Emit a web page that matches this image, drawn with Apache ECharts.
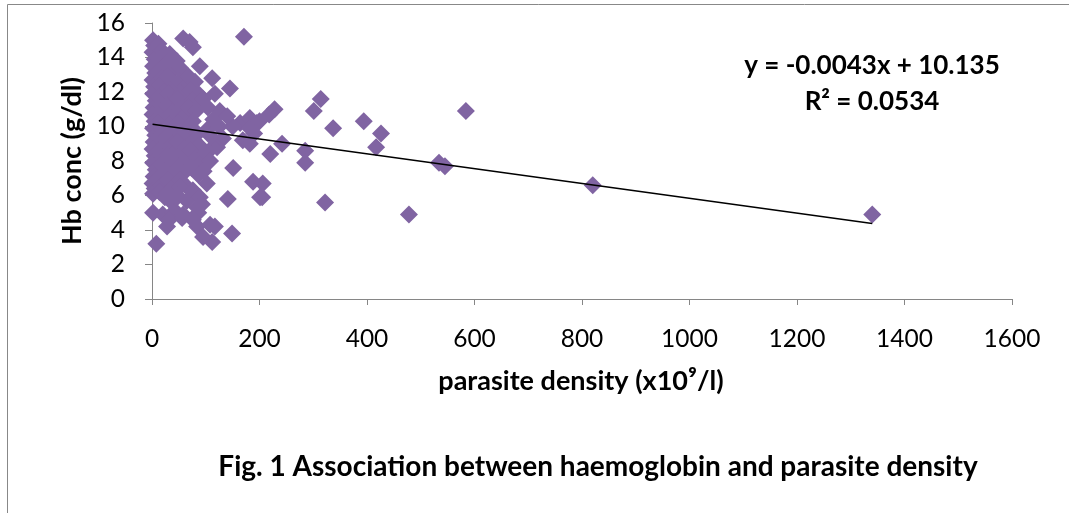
<!DOCTYPE html>
<html>
<head>
<meta charset="utf-8">
<script src="https://cdn.jsdelivr.net/npm/echarts@6/dist/echarts.min.js"></script>
<style>
html,body{margin:0;padding:0;background:#fff;}
#chart{width:1069px;height:513px;}
</style>
</head>
<body>
<div id="chart"></div>
<script>
// Data: parasite density (x10^9/l) and Hb conc (g/dl)
const parasiteDensity = [
  2,4,1,5,2,6,1,4,2,7,3,1,5,2,6,3,1,5,2,7,3,1,5,2,2,8,
  12,18,14,22,11,19,15,24,12,20,16,23,11,19,14,24,12,20,16,23,11,18,14,24,20,
  33,30,40,28,37,44,31,40,29,36,45,32,41,28,38,45,30,40,34,44,29,39,28,37,43,39,28,32,
  58,46,52,60,50,62,55,48,64,53,60,50,65,56,48,62,54,64,50,59,52,62,52,47,65,56,58,
  76,70,68,80,72,86,75,68,82,90,76,70,85,78,88,72,82,90,74,86,76,89,84,86,84,76,
  89,112,95,117,104,126,102,114,132,121,113,100,108,96,102,93,108,112,95,117,125,110,
  145,164,182,195,169,182,182,150,140,220,151,188,206,205,141,149,171,242,218,228,200,190,201,
  314,301,337,394,426,417,584,534,545,820,478,322,285,285,1340
];
const hbConc = [
  15.0,14.7,14.3,13.9,13.5,13.1,12.7,12.3,11.9,11.5,11.1,10.7,10.3,9.9,9.5,9.1,8.7,8.3,7.9,7.5,7.1,6.7,6.4,6.1,5.0,3.2,
  14.8,14.4,13.9,13.5,13.2,12.8,12.4,12.0,11.7,11.3,10.9,10.5,10.2,9.8,9.4,9.0,8.6,8.2,7.8,7.4,7.0,6.6,6.2,5.9,4.9,
  14.2,13.7,13.3,12.9,12.6,12.2,11.9,11.5,11.2,10.8,10.4,10.1,9.7,9.4,9.0,8.6,8.3,7.9,7.6,7.2,6.9,6.5,6.1,5.6,5.1,5.0,4.2,4.6,
  15.1,13.8,13.4,13.0,12.6,12.3,11.9,11.6,11.4,11.0,10.6,10.2,9.9,9.5,9.1,8.8,8.4,8.0,7.7,7.3,6.9,6.6,6.5,6.0,5.7,4.7,4.9,
  14.6,14.9,12.9,12.6,12.1,11.9,11.5,11.1,10.9,11.3,10.3,9.8,9.6,9.2,8.9,8.6,8.2,7.8,7.6,7.2,6.3,5.9,5.3,5.0,4.2,4.6,
  13.5,12.8,11.6,11.9,11.1,10.9,9.8,10.4,9.3,8.8,8.8,8.5,8.0,7.4,6.7,5.5,4.3,3.3,3.6,4.2,10.0,9.4,
  12.2,10.2,10.5,10.2,9.2,9.0,9.9,10.0,10.6,8.4,7.6,6.8,6.7,5.9,5.8,3.8,15.2,9.0,10.7,11.0,10.3,9.6,5.9,
  11.6,10.9,9.9,10.3,9.6,8.8,10.9,7.9,7.7,6.6,4.9,5.6,8.6,7.9,4.9
];
// Trendline as printed on the chart
const trendSlope = -0.0043;
const trendIntercept = 10.135;
const equationText = 'y = -0.0043x + 10.135';
const r2Text = 'R² = 0.0534';
const xTicks = { min: 0, max: 1600, interval: 200 };
const yTicks = { min: 0, max: 16, interval: 2 };
const xTitle = 'parasite density (x10⁹/l)';
const yTitle = 'Hb conc (g/dl)';
const caption = 'Fig. 1 Association between haemoglobin and parasite density';

const points = parasiteDensity.map((x, i) => [x, hbConc[i]]);
const xMinData = Math.min(...parasiteDensity);
const xMaxData = Math.max(...parasiteDensity);
const trendData = [
  [xMinData, trendSlope * xMinData + trendIntercept],
  [xMaxData, trendSlope * xMaxData + trendIntercept]
];

const FONT = 'Lato';
const plain = v => String(v);
const chart = echarts.init(document.getElementById('chart'));
chart.setOption({
  animation: false,
  backgroundColor: '#ffffff',
  grid: { left: 152, right: 57, top: 23, bottom: 214 },
  xAxis: {
    type: 'value', min: xTicks.min, max: xTicks.max, interval: xTicks.interval,
    axisLine: { show: true, onZero: false, lineStyle: { color: '#868686', width: 1 } },
    axisTick: { show: true, inside: false, length: 6, lineStyle: { color: '#868686' } },
    splitLine: { show: false },
    axisLabel: { fontFamily: FONT, fontSize: 24.5, color: '#000', margin: 28, formatter: plain }
  },
  yAxis: {
    type: 'value', min: yTicks.min, max: yTicks.max, interval: yTicks.interval,
    axisLine: { show: true, onZero: false, lineStyle: { color: '#868686', width: 1 } },
    axisTick: { show: true, inside: false, length: 7, lineStyle: { color: '#868686' } },
    splitLine: { show: false },
    axisLabel: { fontFamily: FONT, fontSize: 24.5, color: '#000', margin: 27, formatter: plain }
  },
  series: [
    {
      type: 'scatter', data: points, symbol: 'diamond', symbolSize: 18,
      itemStyle: { color: '#8064A2', opacity: 1 }, z: 2
    },
    {
      type: 'line', data: trendData, showSymbol: false, symbol: 'none',
      lineStyle: { color: '#000', width: 1.5 }, z: 3, silent: true
    }
  ],
  graphic: [
    { type: 'rect', shape: { x: 7.5, y: 4.5, width: 1200, height: 700 },
      style: { fill: 'none', stroke: '#888888', lineWidth: 1 }, silent: true },
    { type: 'text', x: 872, y: 66,
      style: { text: equationText, font: 'bold 26px ' + FONT, fill: '#000', align: 'center', verticalAlign: 'middle' } },
    { type: 'text', x: 872, y: 102,
      style: { text: r2Text, font: 'bold 26px ' + FONT, fill: '#000', align: 'center', verticalAlign: 'middle' } },
    { type: 'text', x: 72, y: 161, rotation: Math.PI / 2,
      style: { text: yTitle, font: 'bold 27px ' + FONT, fill: '#000', align: 'center', verticalAlign: 'middle' } },
    { type: 'text', x: 581, y: 381,
      style: { text: xTitle, font: 'bold 27px ' + FONT, fill: '#000', align: 'center', verticalAlign: 'middle' } },
    { type: 'text', x: 598, y: 467,
      style: { text: caption, font: 'bold 28px ' + FONT, fill: '#000', align: 'center', verticalAlign: 'middle' } }
  ]
});
</script>
</body>
</html>
